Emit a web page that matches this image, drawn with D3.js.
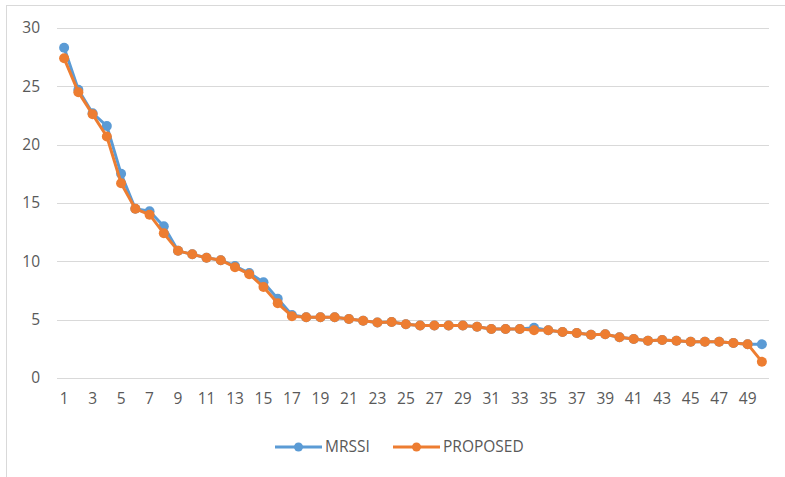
<!DOCTYPE html>
<html>
<head>
<meta charset="utf-8">
<script src="https://cdn.jsdelivr.net/npm/d3@7/dist/d3.min.js"></script>
<style>
  html, body { margin: 0; padding: 0; background: #fff; }
  svg { display: block; }
  text { font-family: "Open Sans", Lato, sans-serif; fill: #595959; }
</style>
</head>
<body>
<svg id="chart" width="785" height="477"></svg>
<script>
const categories = d3.range(1, 51);
const mrssi = [28.3, 24.7, 22.7, 21.6, 17.5, 14.5, 14.3, 13.0, 10.9, 10.6,
               10.3, 10.1, 9.6, 9.0, 8.2, 6.8, 5.4, 5.2, 5.2, 5.2,
               5.05, 4.9, 4.75, 4.8, 4.6, 4.5, 4.5, 4.5, 4.5, 4.4,
               4.2, 4.2, 4.2, 4.3, 4.1, 3.95, 3.85, 3.7, 3.75, 3.5,
               3.35, 3.2, 3.25, 3.2, 3.1, 3.1, 3.1, 3.0, 2.9, 2.9];
const proposed = [27.4, 24.5, 22.6, 20.7, 16.7, 14.5, 14.0, 12.4, 10.9, 10.6,
                  10.3, 10.1, 9.5, 8.9, 7.8, 6.4, 5.3, 5.2, 5.2, 5.2,
                  5.05, 4.9, 4.75, 4.8, 4.6, 4.5, 4.5, 4.5, 4.5, 4.4,
                  4.2, 4.2, 4.2, 4.1, 4.1, 3.95, 3.85, 3.7, 3.75, 3.5,
                  3.35, 3.2, 3.25, 3.2, 3.1, 3.1, 3.1, 3.0, 2.9, 1.4];
const yTicks = [0, 5, 10, 15, 20, 25, 30];
const xTickLabels = categories.filter(d => d % 2 === 1);
const seriesNames = ["MRSSI", "PROPOSED"];
const colors = ["#5B9BD5", "#ED7D31"];

(function () {
const svg = d3.select("#chart");
const fontFam = "'Open Sans', Lato, sans-serif";
const fs = "15.5px";
// outer chart border
svg.append("rect").attr("x", 6.5).attr("y", 5.5).attr("width", 800).attr("height", 500)
  .attr("fill", "none").attr("stroke", "#D9D9D9").attr("stroke-width", 1);

const pLeft = 57, pRight = 769, pTop = 28, pBottom = 378;
const x = d3.scaleBand().domain(categories).range([pLeft, pRight]);
const y = d3.scaleLinear().domain([0, 30]).range([pBottom, pTop]);

// gridlines
svg.append("g").selectAll("line").data(yTicks).join("line")
  .attr("x1", pLeft).attr("x2", pRight)
  .attr("y1", d => Math.round(y(d)) + 0.5).attr("y2", d => Math.round(y(d)) + 0.5)
  .attr("stroke", "#D9D9D9").attr("stroke-width", 1);

// y axis labels
const yAxis = svg.append("g").attr("transform", `translate(${pLeft - 17},0)`)
  .call(d3.axisLeft(y).tickValues(yTicks).tickSize(0).tickPadding(0));
yAxis.select(".domain").remove();
yAxis.selectAll("text").style("font-size", fs).style("fill", "#595959")
  .style("font-family", fontFam);

// x axis labels
const xAxis = svg.append("g").attr("transform", `translate(0,${pBottom})`)
  .call(d3.axisBottom(x).tickValues(xTickLabels).tickSize(0).tickPadding(15));
xAxis.select(".domain").remove();
xAxis.selectAll("text").style("font-size", fs).style("fill", "#595959")
  .style("font-family", fontFam);

const cx = d => x(d) + x.bandwidth() / 2;
const line = d3.line().x((d, i) => cx(categories[i])).y(d => y(d));

[mrssi, proposed].forEach((s, k) => {
  const g = svg.append("g");
  g.append("path").datum(s).attr("d", line).attr("fill", "none")
    .attr("stroke", colors[k]).attr("stroke-width", 3).attr("stroke-linejoin", "round");
  g.selectAll("circle").data(s).join("circle")
    .attr("cx", (d, i) => cx(categories[i])).attr("cy", d => y(d)).attr("r", 5)
    .attr("fill", colors[k]);
});

// legend
const legendItems = [{ x0: 275, name: seriesNames[0], c: colors[0] },
                     { x0: 393, name: seriesNames[1], c: colors[1] }];
const lg = svg.append("g");
legendItems.forEach(it => {
  lg.append("line").attr("x1", it.x0).attr("x2", it.x0 + 47).attr("y1", 447).attr("y2", 447)
    .attr("stroke", it.c).attr("stroke-width", 3);
  lg.append("circle").attr("cx", it.x0 + 23.5).attr("cy", 447).attr("r", 4.5).attr("fill", it.c);
  lg.append("text").attr("x", it.x0 + 50).attr("y", 447).attr("dy", "0.35em")
    .style("font-size", fs).style("font-family", fontFam).text(it.name);
});
})();
</script>
</body>
</html>
